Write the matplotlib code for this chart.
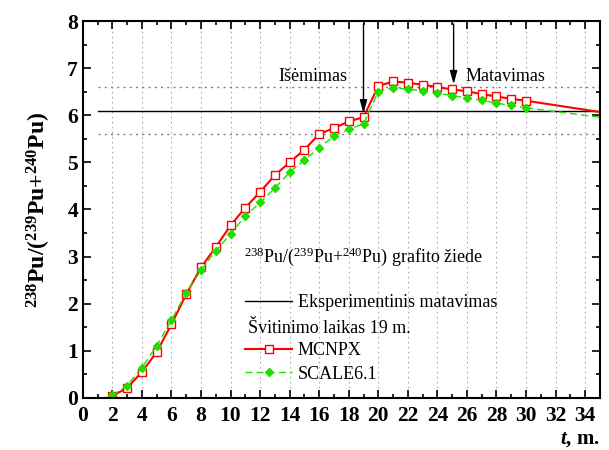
import numpy as np
import matplotlib
matplotlib.use("Agg")
import matplotlib.pyplot as plt
from matplotlib.lines import Line2D
from matplotlib.ticker import MultipleLocator

plt.rcParams['font.family'] = ['Liberation Serif', 'DejaVu Serif']
plt.rcParams['mathtext.fontset'] = 'custom'
plt.rcParams['mathtext.rm'] = 'Liberation Serif'
plt.rcParams['mathtext.it'] = 'Liberation Serif:italic'
plt.rcParams['mathtext.bf'] = 'Liberation Serif:bold'
plt.rcParams['mathtext.bfit'] = 'Liberation Serif:bold:italic'

# data
t_mcnpx = [2, 3, 4, 5, 6, 7, 8, 9, 10, 11, 12, 13, 14, 15, 16, 17, 18, 19,
           20, 21, 22, 23, 24, 25, 26, 27, 28, 29, 30]
mcnpx = [0.04, 0.21, 0.55, 0.97, 1.56, 2.2, 2.77, 3.2, 3.66, 4.04, 4.37, 4.73, 5.0, 5.27,
         5.6, 5.73, 5.87, 5.96, 6.62, 6.72, 6.69, 6.65, 6.6, 6.55, 6.51, 6.45, 6.4, 6.35, 6.31]
t_scale = t_mcnpx
scale = [0.05, 0.26, 0.64, 1.1, 1.65, 2.23, 2.71, 3.12, 3.48, 3.86, 4.15, 4.45, 4.79, 5.05,
         5.31, 5.56, 5.7, 5.82, 6.5, 6.58, 6.56, 6.52, 6.47, 6.42, 6.37, 6.32, 6.26, 6.21, 6.16]
t_tail = [30, 35]
mcnpx_tail = [6.31, 6.07]
scale_tail = [6.16, 5.96]

exp_value = 6.1
exp_err = 0.5
t_removed = 19
t_measured = 25.1

green = '#22dd00'

fig = plt.figure(figsize=(6.09, 4.5), dpi=100)
ax = fig.add_axes([0.136, 0.116, 0.849, 0.837])

# experiment line and uncertainty band
ax.plot([1, 35], [exp_value, exp_value], color='black', lw=1.0)
ax.plot([1, 35], [exp_value + exp_err] * 2, color='gray', lw=1.0, ls=(0, (1.5, 3)))
ax.plot([1, 35], [exp_value - exp_err] * 2, color='gray', lw=1.0, ls=(0, (1.5, 3)))

ax.plot(t_tail, mcnpx_tail, color='red', lw=1.5)
ax.plot(t_tail, scale_tail, color=green, lw=1.0, ls=(0, (5, 3)))
ax.plot(t_mcnpx, mcnpx, color='red', lw=1.5, marker='s', ms=5.5, mfc='white', mec='red', mew=1.0)
ax.plot(t_scale, scale, color=green, lw=1.0, ls=(0, (5, 3)), marker='D', ms=3.8,
        mfc=green, mec=green)

ax.annotate('', xy=(t_removed, 5.98), xytext=(t_removed, 8),
            arrowprops=dict(arrowstyle='-|>,head_width=0.22,head_length=0.8', color='black', lw=1.0))
ax.annotate('', xy=(t_measured, 6.6), xytext=(t_measured, 8),
            arrowprops=dict(arrowstyle='-|>,head_width=0.22,head_length=0.8', color='black', lw=1.0))

ax.text(17.9, 6.82, 'Išėmimas', fontsize=13, ha='right', va='center')
ax.text(25.9, 6.82, 'Matavimas', fontsize=13, ha='left', va='center')
ax.text(10.9, 3.0, r'$^{238}$Pu/($^{239}$Pu+$^{240}$Pu) grafito žiede', fontsize=13,
        ha='left', va='center')
ax.text(11.2, 1.47, 'Švitinimo laikas 19 m.', fontsize=13, ha='left', va='center')

handles = [Line2D([], [], color='black', lw=1.0),
           Line2D([], [], color='none'),
           Line2D([], [], color='red', lw=1.5, marker='s', ms=5.5, mfc='white', mec='red'),
           Line2D([], [], color=green, lw=1.0, ls=(0, (5, 3)), marker='D', ms=3.8,
                  mfc=green, mec=green)]
labels = ['Eksperimentinis matavimas', ' ', 'MCNPX', 'SCALE6.1']
ax.legend(handles, labels, loc='upper left', bbox_to_anchor=(11.0, 2.2),
          bbox_transform=ax.transData, frameon=False, fontsize=13, borderpad=0,
          borderaxespad=0, handlelength=2.6, handletextpad=0.3, labelspacing=0.38)

ax.set_xlim(0, 35)
ax.set_ylim(0, 8)
ax.xaxis.set_major_locator(MultipleLocator(2))
ax.xaxis.set_minor_locator(MultipleLocator(1))
ax.yaxis.set_major_locator(MultipleLocator(1))
ax.yaxis.set_minor_locator(MultipleLocator(0.5))
ax.tick_params(which='both', direction='in', top=True, right=True, width=1.2)
ax.tick_params(which='major', length=6, labelsize=15.5)
ax.tick_params(axis='x', which='major', pad=6)
ax.tick_params(which='minor', length=3)
for lab in ax.get_xticklabels() + ax.get_yticklabels():
    lab.set_fontweight('bold')
for sp in ax.spines.values():
    sp.set_linewidth(1.5)
ax.grid(axis='x', which='major', color='#aaaaaa', ls=(0, (1.5, 3)), lw=0.8)

ax.set_ylabel(r'$\mathbf{^{238}Pu/(^{239}Pu{+}^{240}Pu)}$', fontsize=17, labelpad=10)
ax.set_xlabel(r'$\mathbfit{t}$, m.', fontsize=15, fontweight='bold', loc='right', labelpad=2)

fig.savefig('out.png', dpi=100)
